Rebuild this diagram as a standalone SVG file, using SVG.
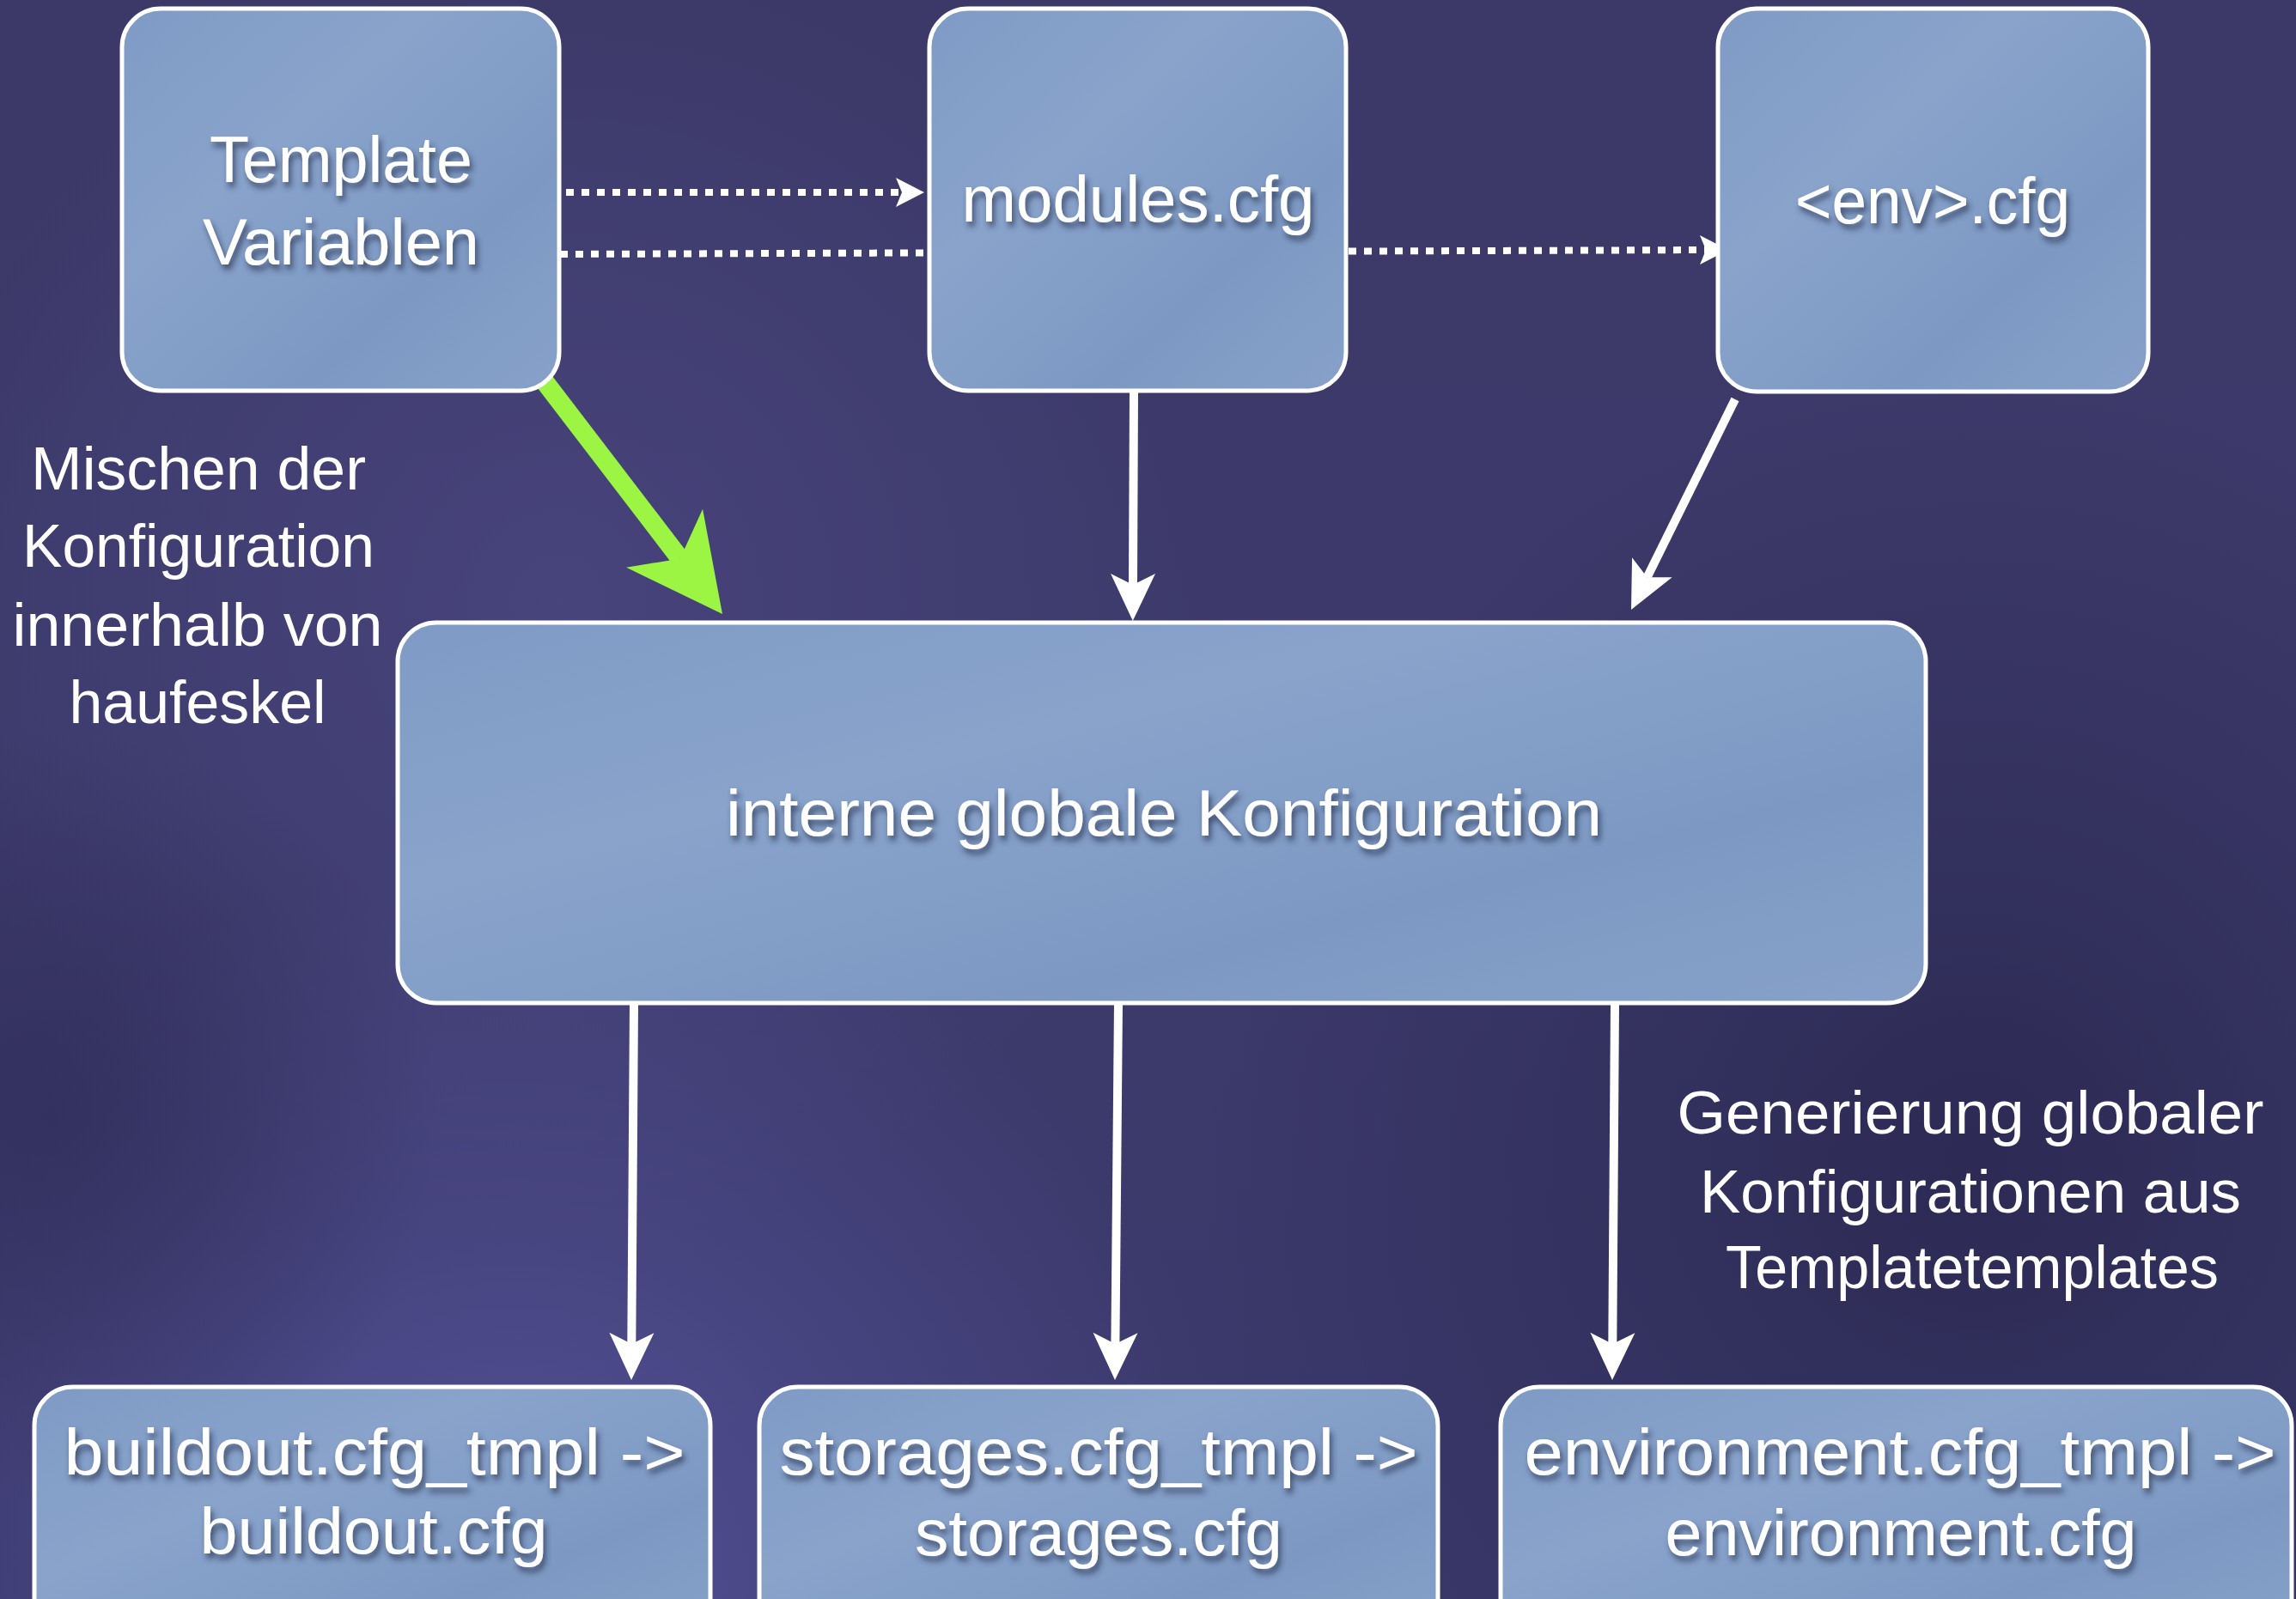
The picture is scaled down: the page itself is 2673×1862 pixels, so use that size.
<svg xmlns="http://www.w3.org/2000/svg" width="2673" height="1862" viewBox="0 0 2673 1862">
<defs>
<linearGradient id="bgBase" x1="0" y1="0" x2="0" y2="1">
<stop offset="0" stop-color="#3c3968"/>
<stop offset="0.5" stop-color="#3d3a6c"/>
<stop offset="1" stop-color="#3a386a"/>
</linearGradient>
<radialGradient id="glowA" cx="650" cy="700" r="750" gradientUnits="userSpaceOnUse">
<stop offset="0" stop-color="#4a4680" stop-opacity="0.8"/>
<stop offset="1" stop-color="#4a4680" stop-opacity="0"/>
</radialGradient>
<radialGradient id="glowB" cx="600" cy="1850" r="850" gradientUnits="userSpaceOnUse">
<stop offset="0" stop-color="#55539a" stop-opacity="0.9"/>
<stop offset="1" stop-color="#55539a" stop-opacity="0"/>
</radialGradient>
<radialGradient id="darkC" cx="2300" cy="1350" r="900" gradientUnits="userSpaceOnUse">
<stop offset="0" stop-color="#2a2850" stop-opacity="0.85"/>
<stop offset="1" stop-color="#2a2850" stop-opacity="0"/>
</radialGradient>
<radialGradient id="darkD" cx="60" cy="1300" r="450" gradientUnits="userSpaceOnUse">
<stop offset="0" stop-color="#2f2d58" stop-opacity="0.7"/>
<stop offset="1" stop-color="#2f2d58" stop-opacity="0"/>
</radialGradient>
<linearGradient id="boxFill" x1="0" y1="0" x2="1" y2="1">
<stop offset="0" stop-color="#7f9bc5"/>
<stop offset="0.35" stop-color="#89a3cb"/>
<stop offset="0.7" stop-color="#7d99c3"/>
<stop offset="1" stop-color="#87a1c9"/>
</linearGradient>
<filter id="shadow" x="-10%" y="-30%" width="120%" height="170%">
<feDropShadow dx="3" dy="6" stdDeviation="3.5" flood-color="#26304f" flood-opacity="0.75"/>
</filter>
<marker id="arrowWhite" markerUnits="userSpaceOnUse" orient="auto" refX="0" refY="0" markerWidth="120" markerHeight="120" viewBox="-20 -60 120 120" overflow="visible">
<path d="M42,0 L-13,-26 L0,0 L-13,26 Z" fill="#ffffff"/>
</marker>
<marker id="arrowDot" markerUnits="userSpaceOnUse" orient="auto" refX="0" refY="0" markerWidth="60" markerHeight="60" viewBox="-20 -30 60 60" overflow="visible">
<path d="M26,0 L-7,-17 L0,0 L-7,17 Z" fill="#ffffff"/>
</marker>
<marker id="arrowGreen" markerUnits="userSpaceOnUse" orient="auto" refX="0" refY="0" markerWidth="200" markerHeight="200" viewBox="-50 -100 200 200" overflow="visible">
<path d="M81,0 L-30,-56 L0,0 L-30,56 Z" fill="#9bf542"/>
</marker>
</defs>
<style>
.box { fill: url(#boxFill); stroke: #ffffff; stroke-width: 5; }
.lbl { font-family: "Liberation Sans", Arial, sans-serif; font-size: 76px; fill: #ffffff; text-anchor: middle; filter: url(#shadow); }
.note { font-family: "Liberation Sans", Arial, sans-serif; font-size: 70px; fill: #ffffff; text-anchor: middle; }
.solid { stroke: #ffffff; stroke-width: 10; fill: none; marker-end: url(#arrowWhite); }
.dotted { stroke: #ffffff; stroke-width: 8; stroke-dasharray: 9 9; fill: none; marker-end: url(#arrowDot); }
.green { stroke: #9bf542; stroke-width: 22; fill: none; marker-end: url(#arrowGreen); }
</style>

<g id="background">
<rect x="0" y="0" width="2673" height="1862" fill="url(#bgBase)"/>
<rect x="0" y="0" width="2673" height="1862" fill="url(#glowA)"/>
<rect x="0" y="0" width="2673" height="1862" fill="url(#glowB)"/>
<rect x="0" y="0" width="2673" height="1862" fill="url(#darkC)"/>
<rect x="0" y="0" width="2673" height="1862" fill="url(#darkD)"/>
</g>

<g id="connectors">
<line class="dotted" x1="659" y1="224" x2="1050" y2="224"/>
<line class="dotted" x1="652" y1="296" x2="1986" y2="291"/>
<line class="green" x1="620" y1="426" x2="791.8" y2="650.6"/>
<line class="solid" x1="1320" y1="455" x2="1319" y2="681"/>
<line class="solid" x1="2020" y1="465" x2="1917.6" y2="672.3"/>
<line class="solid" x1="738" y1="1168" x2="735.3" y2="1565"/>
<line class="solid" x1="1302" y1="1168" x2="1298.4" y2="1565"/>
<line class="solid" x1="1880" y1="1168" x2="1877.3" y2="1565"/>
</g>

<g id="node-template-variablen">
<rect class="box" x="142" y="10" width="509" height="445" rx="45" ry="45"/>
<text class="lbl" x="397" y="212" textLength="306" lengthAdjust="spacingAndGlyphs">Template</text>
<text class="lbl" x="397" y="308" textLength="322" lengthAdjust="spacingAndGlyphs">Variablen</text>
</g>

<g id="node-modules-cfg">
<rect class="box" x="1082" y="10" width="485" height="445" rx="45" ry="45"/>
<text class="lbl" x="1325" y="258" textLength="411" lengthAdjust="spacingAndGlyphs">modules.cfg</text>
</g>

<g id="node-env-cfg">
<rect class="box" x="2000" y="10" width="501" height="446" rx="45" ry="45"/>
<text class="lbl" x="2250" y="260" textLength="320" lengthAdjust="spacingAndGlyphs">&lt;env&gt;.cfg</text>
</g>

<g id="node-interne-globale-konfiguration">
<rect class="box" x="463" y="725" width="1779" height="443" rx="45" ry="45"/>
<text class="lbl" x="1355" y="973" textLength="1020" lengthAdjust="spacingAndGlyphs">interne globale Konfiguration</text>
</g>

<g id="node-buildout">
<rect class="box" x="40" y="1615" width="787" height="320" rx="45" ry="45"/>
<text class="lbl" x="436" y="1717" textLength="723" lengthAdjust="spacingAndGlyphs">buildout.cfg_tmpl -&gt;</text>
<text class="lbl" x="435" y="1809" textLength="405" lengthAdjust="spacingAndGlyphs">buildout.cfg</text>
</g>

<g id="node-storages">
<rect class="box" x="884" y="1615" width="790" height="320" rx="45" ry="45"/>
<text class="lbl" x="1279" y="1717" textLength="743" lengthAdjust="spacingAndGlyphs">storages.cfg_tmpl -&gt;</text>
<text class="lbl" x="1279" y="1811" textLength="428" lengthAdjust="spacingAndGlyphs">storages.cfg</text>
</g>

<g id="node-environment">
<rect class="box" x="1747" y="1615" width="921" height="320" rx="45" ry="45"/>
<text class="lbl" x="2212" y="1717" textLength="875" lengthAdjust="spacingAndGlyphs">environment.cfg_tmpl -&gt;</text>
<text class="lbl" x="2213" y="1811" textLength="549" lengthAdjust="spacingAndGlyphs">environment.cfg</text>
</g>

<g id="label-mischen">
<text class="note" x="231" y="570" textLength="390" lengthAdjust="spacingAndGlyphs">Mischen der</text>
<text class="note" x="231" y="660" textLength="410" lengthAdjust="spacingAndGlyphs">Konfiguration</text>
<text class="note" x="230" y="752" textLength="431" lengthAdjust="spacingAndGlyphs">innerhalb von</text>
<text class="note" x="230" y="842" textLength="299" lengthAdjust="spacingAndGlyphs">haufeskel</text>
</g>

<g id="label-generierung">
<text class="note" x="2294" y="1320" textLength="683" lengthAdjust="spacingAndGlyphs">Generierung globaler</text>
<text class="note" x="2294" y="1412" textLength="630" lengthAdjust="spacingAndGlyphs">Konfigurationen aus</text>
<text class="note" x="2296" y="1500" textLength="574" lengthAdjust="spacingAndGlyphs">Templatetemplates</text>
</g>
</svg>
